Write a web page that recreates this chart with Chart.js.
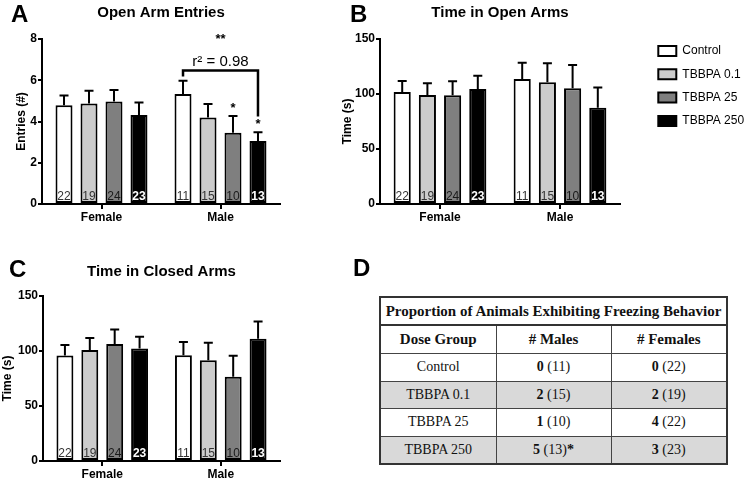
<!DOCTYPE html>
<html><head><meta charset="utf-8">
<script src="https://cdn.jsdelivr.net/npm/chart.js@4.4.1/dist/chart.umd.min.js"></script>
<style>
html,body{margin:0;padding:0;background:#fff;}
body{width:749px;height:480px;position:relative;overflow:hidden;font-family:'Liberation Sans',Arial,sans-serif;}
canvas{position:absolute;}
.lbl{position:absolute;font-weight:bold;font-size:24px;line-height:24px;color:#000;}
#tbl{position:absolute;left:379px;top:296px;width:347px;height:167px;border-collapse:collapse;table-layout:fixed;
  font-family:'Liberation Serif','Times New Roman',serif;font-size:14px;color:#111;border:2px solid #333;}
#tbl td,#tbl th{border:1.5px solid #444;text-align:center;padding:0;}
#tbl th{font-weight:bold;font-size:15px;}
#tbl tr.ttl th{height:26px;border-bottom:2px solid #333;}
#tbl tr.hdr th{height:27px;}
#tbl tr.row td{height:26.5px;}
#tbl tr.gray td{background:#d9d9d9;}
</style></head>
<body>
<canvas id="cA" width="300" height="225" style="left:0;top:0"></canvas>
<canvas id="cB" width="449" height="225" style="left:300px;top:0"></canvas>
<canvas id="cC" width="300" height="240" style="left:0;top:240px"></canvas>
<div class="lbl" style="left:11px;top:2px">A</div>
<div class="lbl" style="left:350px;top:2px">B</div>
<div class="lbl" style="left:9px;top:257px">C</div>
<div class="lbl" style="left:353px;top:256px">D</div>
<table id="tbl"></table>
<script>
// ---------- data ----------
const sexes = ['Female', 'Male'];
const doseGroups = ['Control', 'TBBPA 0.1', 'TBBPA 25', 'TBBPA 250'];
const nFemale = [22, 19, 24, 23];
const nMale = [11, 15, 10, 13];

// Panel A: open arm entries, per dose [Female, Male]
const entriesMean = [[4.79, 5.33], [4.87, 4.19], [4.97, 3.46], [4.32, 3.06]];
const entriesErr  = [[0.47, 0.64], [0.62, 0.66], [0.56, 0.81], [0.60, 0.42]];
const entriesTicks = [0, 2, 4, 6, 8];

// Panel B: time in open arms (s)
const openMean = [[101.8, 113.6], [99.1, 110.6], [98.8, 105.2], [104.5, 87.5]];
const openErr  = [[10.0, 14.9], [10.6, 17.3], [12.7, 21.2], [12.1, 18.3]];

// Panel C: time in closed arms (s)
const closedMean = [[95.8, 96.1], [101.0, 91.6], [106.4, 76.6], [102.2, 111.2]];
const closedErr  = [[9.7, 12.1], [10.8, 16.0], [13.2, 19.0], [10.8, 15.7]];
const timeTicks = [0, 50, 100, 150];

// Panel A annotations (data units, male group)
const trendLabel = 'r\u00B2 = 0.98';
const trendStars = '**';
const bracketLevels = [6.18, 6.47, 4.24];   // left leg end, bar, right leg end
const trendLabelLevel = 6.9;
const trendStarsLevel = 8.0;
const sigDatasets = [2, 3];
const sigLevels = [4.65, 3.88];

// Panel D: freezing behaviour table
const freezeTitle = 'Proportion of Animals Exhibiting Freezing Behavior';
const freezeHeaders = ['Dose Group', '# Males', '# Females'];
const freezeMales = [0, 2, 1, 5];
const freezeMalesN = [11, 15, 10, 13];
const freezeFemales = [0, 2, 4, 3];
const freezeFemalesN = [22, 19, 22, 23];
const freezeMaleSig = ['', '', '', '*'];

// ---------- style ----------
const fills = ['#ffffff', '#cccccc', '#7f7f7f', '#000000'];
const nColors = ['#333333', '#333333', '#1a1a1a', '#ffffff'];
Chart.defaults.font.family = "'Liberation Sans', Arial, sans-serif";
Chart.defaults.color = '#000';

const errPlugin = {
  id: 'errs',
  afterDatasetsDraw(chart) {
    const ctx = chart.ctx, ys = chart.scales.y;
    chart.data.datasets.forEach((ds, di) => {
      const meta = chart.getDatasetMeta(di);
      meta.data.forEach((bar, i) => {
        const y1 = ys.getPixelForValue(ds.data[i]);
        const y2 = ys.getPixelForValue(ds.data[i] + ds.errors[i]);
        ctx.save();
        ctx.strokeStyle = '#000'; ctx.lineWidth = 2;
        ctx.beginPath();
        ctx.moveTo(bar.x, y1); ctx.lineTo(bar.x, y2);
        ctx.moveTo(bar.x - 4.5, y2); ctx.lineTo(bar.x + 4.5, y2);
        ctx.stroke();
        ctx.fillStyle = nColors[di];
        ctx.font = (di === 3 ? 'bold ' : '') + "12px 'Liberation Sans', Arial, sans-serif";
        ctx.textAlign = 'center'; ctx.textBaseline = 'middle';
        ctx.fillText(String(ds.counts[i]), bar.x, ys.bottom - 7);
        ctx.restore();
      });
    });
  }
};

const annotA = {
  id: 'annotA',
  afterDraw(chart) {
    const ctx = chart.ctx, ys = chart.scales.y;
    const b0 = chart.getDatasetMeta(0).data[1];
    const b3 = chart.getDatasetMeta(3).data[1];
    const yl = ys.getPixelForValue(bracketLevels[0]);
    const yb = ys.getPixelForValue(bracketLevels[1]);
    const yr = ys.getPixelForValue(bracketLevels[2]);
    ctx.save();
    ctx.strokeStyle = '#000'; ctx.lineWidth = 2.5;
    ctx.beginPath();
    ctx.moveTo(b0.x, yl); ctx.lineTo(b0.x, yb); ctx.lineTo(b3.x, yb); ctx.lineTo(b3.x, yr);
    ctx.stroke();
    ctx.fillStyle = '#000'; ctx.textAlign = 'center'; ctx.textBaseline = 'middle';
    const cx = (chart.getDatasetMeta(1).data[1].x + chart.getDatasetMeta(2).data[1].x) / 2;
    ctx.font = "15px 'Liberation Sans', Arial, sans-serif";
    ctx.fillText(trendLabel, cx, ys.getPixelForValue(trendLabelLevel));
    ctx.font = "bold 13px 'Liberation Sans', Arial, sans-serif";
    ctx.fillText(trendStars, cx, ys.getPixelForValue(trendStarsLevel));
    sigDatasets.forEach((d, k) => {
      const bx = chart.getDatasetMeta(d).data[1].x;
      ctx.fillText('*', bx, ys.getPixelForValue(sigLevels[k]));
    });
    ctx.restore();
  }
};

const legendPlace = {
  id: 'legendPlace',
  beforeLayout(chart) {
    const lg = chart.legend;
    if (!lg || lg._placed) return;
    lg._placed = true;
    const fit = lg.fit;
    lg.fit = function () { fit.call(this); this.width = 129; };
    const draw = lg.draw;
    lg.draw = function () {
      const dx = 27, dy = 33.7;
      this.left += dx; this.right += dx; this.top += dy; this.bottom += dy;
      draw.call(this);
      this.left -= dx; this.right -= dx; this.top -= dy; this.bottom -= dy;
    };
  }
};

function barChart(id, o) {
  const datasets = doseGroups.map((g, i) => ({
    label: g, data: o.means[i], errors: o.errs[i], counts: [nFemale[i], nMale[i]],
    backgroundColor: fills[i], borderColor: '#000', borderWidth: 2, borderSkipped: false,
    categoryPercentage: 0.84, barPercentage: 0.68
  }));
  return new Chart(document.getElementById(id), {
    type: 'bar',
    data: { labels: sexes, datasets },
    options: {
      responsive: false, animation: false, devicePixelRatio: 1,
      layout: { padding: o.padding },
      plugins: {
        legend: o.legend || { display: false },
        tooltip: { enabled: false },
        title: { display: true, text: o.title, fullSize: false, color: '#000',
                 font: { size: 15, weight: 'bold' }, padding: o.titlePad }
      },
      scales: {
        x: {
          grid: { display: true, drawOnChartArea: false, offset: false, color: '#000', lineWidth: 2, tickLength: 5 },
          border: { display: true, color: '#000', width: 2 },
          ticks: { color: '#000', font: { size: 12, weight: 'bold' }, padding: 1, maxRotation: 0 },
          afterFit: s => { s.height = o.xH; }
        },
        y: {
          min: 0, max: o.ticks[o.ticks.length - 1],
          afterBuildTicks: s => { s.ticks = o.ticks.map(v => ({ value: v })); },
          ticks: { color: '#000', font: { size: 12, weight: 'bold' }, padding: 1 },
          grid: { display: true, drawOnChartArea: false, color: '#000', lineWidth: 2, tickLength: 4 },
          border: { display: true, color: '#000', width: 2 },
          title: { display: true, text: o.yTitle, color: '#000', font: { size: 12, weight: 'bold' },
                   padding: { top: o.yTitlePad, bottom: 0 } },
          afterFit: s => { s.width = o.yW; }
        }
      }
    },
    plugins: [errPlugin].concat(o.plugins || [])
  });
}

barChart('cA', { means: entriesMean, errs: entriesErr, ticks: entriesTicks, title: 'Open Arm Entries',
  yTitle: 'Entries (#)', yTitlePad: 14, yW: 42, xH: 21, padding: { left: 0, right: 20, top: 0, bottom: 0 },
  titlePad: { top: 4, bottom: 17 }, plugins: [annotA] });

barChart('cB', { means: openMean, errs: openErr, ticks: timeTicks, title: 'Time in Open Arms',
  yTitle: 'Time (s)', yTitlePad: 40, yW: 80, xH: 21, padding: { left: 0, right: 0, top: 0, bottom: 0 },
  titlePad: { top: 4, bottom: 17 }, plugins: [legendPlace],
  legend: { display: true, position: 'right', align: 'start',
    labels: { boxWidth: 18, boxHeight: 10, padding: 11.3, color: '#000', font: { size: 12 } } } });

barChart('cC', { means: closedMean, errs: closedErr, ticks: timeTicks, title: 'Time in Closed Arms',
  yTitle: 'Time (s)', yTitlePad: 0, yW: 43, xH: 19, padding: { left: 0, right: 20, top: 0, bottom: 0 },
  titlePad: { top: 23, bottom: 15 } });

// ---------- table ----------
(function () {
  const t = document.getElementById('tbl');
  let html = '<colgroup><col style="width:116px"><col style="width:115px"><col style="width:116px"></colgroup>';
  html += '<tr class="ttl"><th colspan="3">' + freezeTitle + '</th></tr>';
  html += '<tr class="hdr">' + freezeHeaders.map(h => '<th>' + h + '</th>').join('') + '</tr>';
  doseGroups.forEach((g, i) => {
    html += '<tr class="row' + (i % 2 === 1 ? ' gray' : '') + '"><td>' + g + '</td>' +
      '<td><b>' + freezeMales[i] + '</b> (' + freezeMalesN[i] + ')' + (freezeMaleSig[i] ? '<b>' + freezeMaleSig[i] + '</b>' : '') + '</td>' +
      '<td><b>' + freezeFemales[i] + '</b> (' + freezeFemalesN[i] + ')</td></tr>';
  });
  t.innerHTML = html;
})();
</script>
</body></html>
